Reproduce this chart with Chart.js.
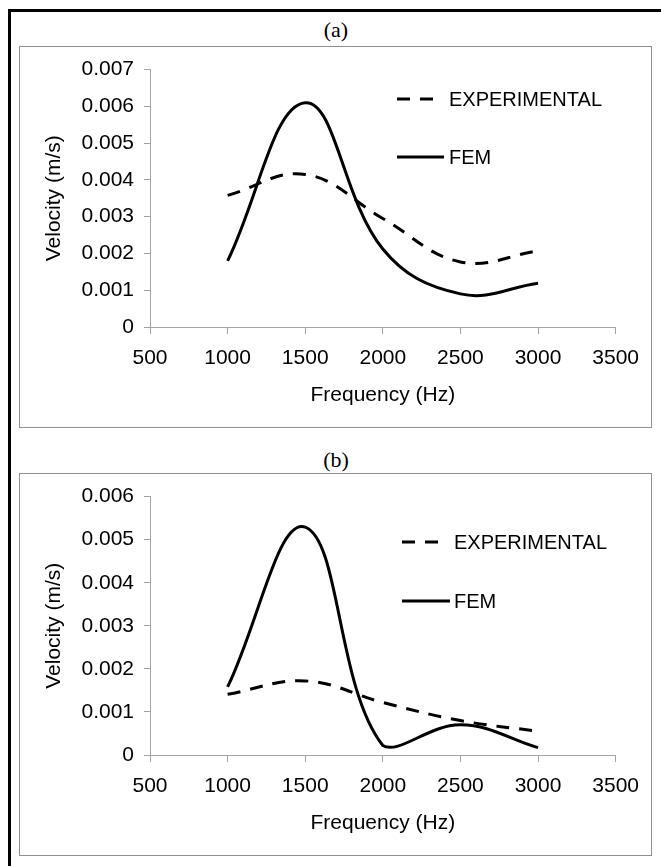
<!DOCTYPE html>
<html>
<head>
<meta charset="utf-8">
<title>Velocity vs frequency</title>
<script src="https://cdn.jsdelivr.net/npm/chart.js@4.4.1/dist/chart.umd.min.js"></script>
<style>
  body {
    margin: 0;
    width: 661px;
    height: 866px;
    position: relative;
    overflow: hidden;
    background: #fff;
  }
  #frame {
    position: absolute;
    left: 8px;
    top: 9px;
    width: 700px;
    height: 900px;
    border-top: 3px solid #000;
    border-left: 3px solid #000;
  }
  .panel {
    position: absolute;
    left: 19px;
    border: 1px solid #8f8f8f;
    background: #fff;
  }
  .panel canvas { display: block; }
  .tag {
    position: absolute;
    left: 0;
    width: 672px;
    text-align: center;
    font-family: 'Liberation Serif', 'Times New Roman', serif;
    font-size: 22px;
    line-height: 22px;
    color: #000;
  }
</style>
</head>
<body>
<div id="frame"></div>

<div class="tag" style="top:19px">(a)</div>
<div class="panel" style="top:46px"><canvas id="chartA" width="631" height="380"></canvas></div>

<div class="tag" style="top:449px">(b)</div>
<div class="panel" style="top:473px"><canvas id="chartB" width="631" height="381"></canvas></div>

<script>
'use strict';

//////////////////////
// data
//////////////////////

const frequencies = [1000, 1500, 2000, 2500, 3000];
const freqTicks = [500, 1000, 1500, 2000, 2500, 3000, 3500];

// (a)
const expA = [0.00358, 0.00415, 0.00295, 0.00177, 0.00207];
const femA = [0.00180, 0.00610, 0.00212, 0.00090, 0.00119];
const velTicksA = [0, 0.001, 0.002, 0.003, 0.004, 0.005, 0.006, 0.007];

// (b)
const expB = [0.00141, 0.00172, 0.00122, 0.00080, 0.00055];
const femB = [0.00158, 0.00529, 0.00022, 0.00070, 0.00017];
const velTicksB = [0, 0.001, 0.002, 0.003, 0.004, 0.005, 0.006];

const seriesNames = ['EXPERIMENTAL', 'FEM'];

//////////////////////
// helpers
//////////////////////

const sans = "'Liberation Sans', Arial, sans-serif";
const axisGray = '#a3a3a3';

function toPoints(values) {
  return frequencies.map((f, i) => ({ x: f, y: values[i] }));
}

// legend drawn inside the plot, sample line then label
const sideKey = {
  id: 'sideKey',
  afterDatasetsDraw(chart, args, opts) {
    const ctx = chart.ctx;
    ctx.save();
    chart.data.datasets.forEach((ds, i) => {
      const row = opts.rows[i];
      ctx.beginPath();
      ctx.lineWidth = ds.borderWidth;
      ctx.strokeStyle = ds.borderColor;
      ctx.setLineDash(ds.borderDash || []);
      ctx.moveTo(opts.x, row.y);
      ctx.lineTo(opts.x + row.len, row.y);
      ctx.stroke();
      ctx.setLineDash([]);
      ctx.fillStyle = '#000';
      ctx.font = '20px ' + sans;
      ctx.textBaseline = 'middle';
      ctx.textAlign = 'left';
      ctx.fillText(ds.label, opts.textX, row.y + 1);
    });
    ctx.restore();
  }
};

function makeChart(canvasId, expData, femData, velTicks, key) {
  const config = {
    type: 'line',
    data: {
      datasets: [{
        label: seriesNames[0],
        data: toPoints(expData),
        borderColor: '#000',
        borderWidth: 3,
        borderDash: [13, 10],
        pointRadius: 0,
        tension: 0.4,
        fill: false
      },
      {
        label: seriesNames[1],
        data: toPoints(femData),
        borderColor: '#000',
        borderWidth: 3,
        pointRadius: 0,
        tension: 0.4,
        fill: false
      }]
    },
    options: {
      responsive: false,
      animation: false,
      devicePixelRatio: 1,
      layout: { padding: { left: 0, right: 34, top: 20, bottom: 0 } },
      plugins: {
        legend: { display: false },
        tooltip: { enabled: false },
        sideKey: key
      },
      scales: {
        x: {
          type: 'linear',
          min: freqTicks[0],
          max: freqTicks[freqTicks.length - 1],
          afterBuildTicks: (scale) => { scale.ticks = freqTicks.map(v => ({ value: v })); },
          afterFit: (scale) => { scale.height = 100; },
          grid: { drawOnChartArea: false, tickLength: 7, color: axisGray },
          border: { color: axisGray, width: 1 },
          ticks: {
            color: '#000',
            padding: 12,
            font: { family: sans, size: 21 },
            callback: (v) => String(v)
          },
          title: {
            display: true,
            text: 'Frequency (Hz)',
            color: '#000',
            font: { family: sans, size: 21 },
            padding: { top: 0, bottom: 19 }
          }
        },
        y: {
          min: velTicks[0],
          max: velTicks[velTicks.length - 1],
          afterBuildTicks: (scale) => { scale.ticks = velTicks.map(v => ({ value: v })); },
          afterFit: (scale) => { scale.width = 130; },
          grid: { drawOnChartArea: false, tickLength: 6, color: axisGray },
          border: { color: axisGray, width: 1 },
          ticks: {
            color: '#000',
            padding: 10,
            font: { family: sans, size: 21 },
            callback: (v) => (v === 0 ? '0' : v.toFixed(3))
          },
          title: {
            display: true,
            text: 'Velocity (m/s)',
            color: '#000',
            font: { family: sans, size: 21 },
            padding: { top: 22, bottom: 0 }
          }
        }
      }
    },
    plugins: [sideKey]
  };
  return new Chart(document.getElementById(canvasId), config);
}

//////////////////////
// draw
//////////////////////

makeChart('chartA', expA, femA, velTicksA, {
  x: 377, textX: 429,
  rows: [{ y: 52, len: 36 }, { y: 110, len: 47 }]
});

makeChart('chartB', expB, femB, velTicksB, {
  x: 382, textX: 434,
  rows: [{ y: 68, len: 36 }, { y: 127, len: 48 }]
});
</script>
</body>
</html>
